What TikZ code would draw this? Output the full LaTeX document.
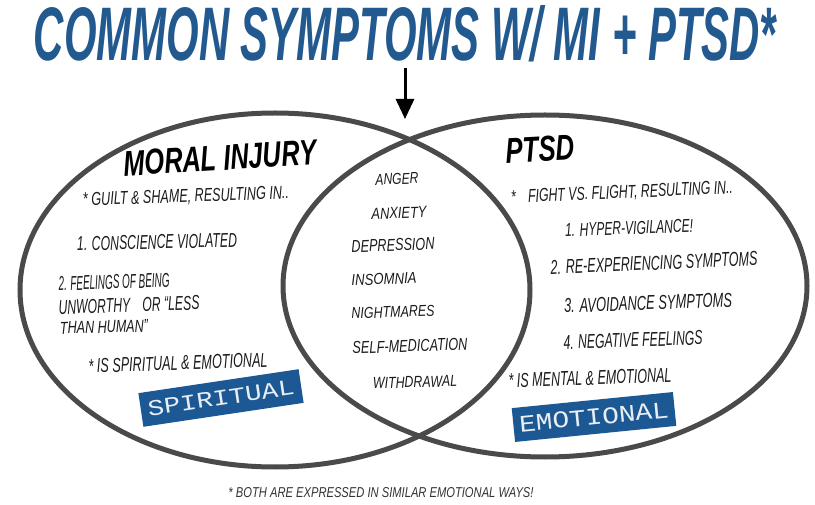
\documentclass[tikz,border=0pt]{standalone}
\usepackage{fontspec}
\setmainfont{Liberation Sans}
\setmonofont{Liberation Mono}
\usetikzlibrary{arrows.meta}
\definecolor{titleblue}{HTML}{22598F}
\definecolor{boxblue}{HTML}{1B5894}
\definecolor{ringgray}{HTML}{4A4A4A}
\definecolor{inkblack}{HTML}{1C1C1C}
\newcommand{\fitt}[3]{\resizebox{#1pt}{#2pt}{#3}}
\begin{document}
\begin{tikzpicture}[x=1pt,y=-1pt,
  ring/.style={draw=ringgray, line width=5pt},
  txt/.style={inner sep=0pt, text=inkblack, font=\itshape},
  head/.style={inner sep=0pt, text=black, font=\bfseries\itshape},
  tag/.style={fill=boxblue, minimum width=162pt, minimum height=34pt, inner sep=0pt, text=white!90!boxblue, font=\ttfamily},
  pointer/.style={draw=black, line width=3pt, -{Triangle[length=20pt,width=18pt]}}
]
\useasboundingbox (0,0) rectangle (815,505);
\fill[white] (0,0) rectangle (815,505);

% rings
\draw[ring] (275,290) ellipse [x radius=255, y radius=177];
\draw[ring] (545,286) ellipse [x radius=262, y radius=171];

% title and arrow
\node[inner sep=0pt, text=titleblue, font=\bfseries\itshape] (title) at (405,34) {\fitt{742}{55}{COMMON SYMPTOMS W/ MI + PTSD*}};
\coordinate (arrowtop) at (405,68);
\coordinate (arrowtip) at (405,119);
\draw[pointer] (arrowtop) -- (arrowtip);

% left: moral injury
\node[head, rotate=3.5] (mi) at (220,158) {\fitt{193}{25}{MORAL INJURY}};
\node[txt, rotate=2] (guilt) at (186,197) {\fitt{206}{13}{* GUILT \& SHAME, RESULTING IN..}};
\node[txt, rotate=1.5] (consc) at (157,242) {\fitt{160}{14}{1. CONSCIENCE VIOLATED}};
\node[txt, rotate=2] (feel) at (114,282) {\fitt{111}{14}{2. FEELINGS OF BEING}};
\node[txt, rotate=2] (unw) at (129,305) {\fitt{141}{14}{UNWORTHY\quad OR ``LESS}};
\node[txt, rotate=1.5] (than) at (104,327) {\fitt{88}{12}{THAN HUMAN''}};
\node[txt, rotate=2] (spem) at (178,363) {\fitt{179}{14}{* IS SPIRITUAL \& EMOTIONAL}};
\node[tag, rotate=8.5] (spirit) at (221,398) {\fitt{148}{15}{SPIRITUAL}};

% middle
\node[txt, rotate=2] (anger) at (397,179) {\fitt{43}{11}{ANGER}};
\node[txt, rotate=2] (anx) at (399,213) {\fitt{55}{11}{ANXIETY}};
\node[txt, rotate=2] (dep) at (393,245) {\fitt{83}{12}{DEPRESSION}};
\node[txt, rotate=2] (ins) at (384,279) {\fitt{65}{11}{INSOMNIA}};
\node[txt, rotate=2] (night) at (393,312) {\fitt{83}{11}{NIGHTMARES}};
\node[txt, rotate=2] (self) at (410,346) {\fitt{115}{12}{SELF-MEDICATION}};
\node[txt, rotate=1.5] (with) at (415,382) {\fitt{84}{11}{WITHDRAWAL}};

% right: PTSD
\node[head, rotate=3] (ptsd) at (540,149) {\fitt{69}{25}{PTSD}};
\node[txt, rotate=2.5] (fight) at (622,193) {\fitt{222}{13}{*\quad FIGHT VS. FLIGHT, RESULTING IN..}};
\node[txt, rotate=2] (hyper) at (629,228) {\fitt{128}{13}{1. HYPER-VIGILANCE!}};
\node[txt, rotate=2.5] (reexp) at (654,263) {\fitt{207}{14}{2. RE-EXPERIENCING SYMPTOMS}};
\node[txt, rotate=2] (avoid) at (648,303) {\fitt{168}{14}{3. AVOIDANCE SYMPTOMS}};
\node[txt, rotate=2] (neg) at (633,340) {\fitt{139}{14}{4. NEGATIVE FEELINGS}};
\node[txt, rotate=2] (ment) at (590,378) {\fitt{163}{14}{* IS MENTAL \& EMOTIONAL}};
\node[tag, rotate=5.7] (emot) at (594,417) {\fitt{150}{16}{EMOTIONAL}};

% footnote
\node[txt, text=black!80] (foot) at (381,493) {\fitt{305}{10}{* BOTH ARE EXPRESSED IN SIMILAR EMOTIONAL WAYS!}};
\end{tikzpicture}
\end{document}
